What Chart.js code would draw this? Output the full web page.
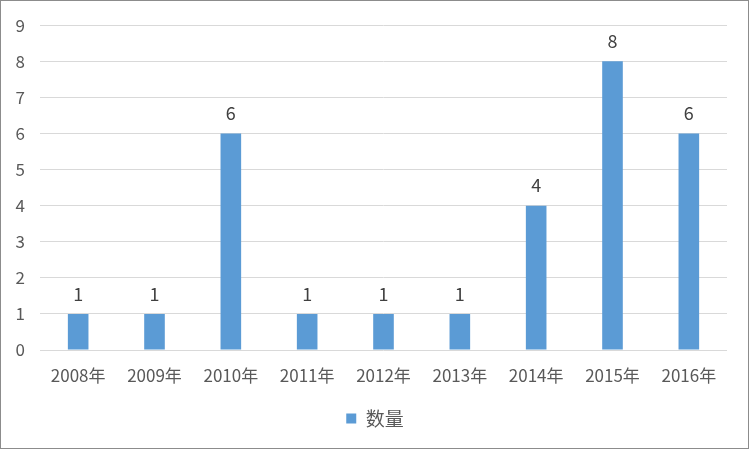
<!DOCTYPE html>
<html>
<head>
<meta charset="utf-8">
<script src="https://cdn.jsdelivr.net/npm/chart.js@4/dist/chart.umd.min.js"></script>
<style>
  html, body { margin: 0; padding: 0; background: #fff; }
  #wrap { width: 750px; height: 450px; position: relative; }
</style>
</head>
<body>
<div id="wrap"><canvas id="c" width="750" height="450"></canvas></div>
<script>
const years = ['2008年', '2009年', '2010年', '2011年', '2012年', '2013年', '2014年', '2015年', '2016年'];
const counts = [1, 1, 6, 1, 1, 1, 4, 8, 6];
const seriesName = '数量';
const yTicks = [0, 1, 2, 3, 4, 5, 6, 7, 8, 9];

const FONT = '"Noto Sans CJK SC", "Liberation Sans", sans-serif';

// Value labels above each bar plus the outer frame of the chart
const extras = {
  id: 'extras',
  afterDatasetsDraw(chart) {
    const ctx = chart.ctx;
    const meta = chart.getDatasetMeta(0);
    ctx.save();
    ctx.fillStyle = '#404040';
    ctx.font = '18px ' + FONT;
    ctx.textAlign = 'center';
    ctx.textBaseline = 'middle';
    meta.data.forEach((bar, i) => {
      ctx.fillText(String(counts[i]), bar.x, bar.y - 20);
    });
    ctx.restore();
  },
  afterDraw(chart) {
    const ctx = chart.ctx;
    ctx.save();
    ctx.strokeStyle = '#8c8c8c';
    ctx.lineWidth = 1;
    ctx.strokeRect(0.5, 0.5, chart.width - 2, chart.height - 2);
    ctx.restore();
  }
};

new Chart(document.getElementById('c'), {
  type: 'bar',
  data: {
    labels: years,
    datasets: [{
      label: seriesName,
      data: counts,
      backgroundColor: '#5B9BD5',
      borderWidth: 0,
      categoryPercentage: 1,
      barPercentage: 0.27
    }]
  },
  options: {
    responsive: false,
    animation: false,
    layout: { padding: { top: 19, right: 0, left: 0, bottom: 12 } },
    plugins: {
      legend: {
        position: 'bottom',
        labels: {
          boxWidth: 10,
          boxHeight: 10,
          color: '#595959',
          font: { size: 19, family: FONT },
          padding: 10
        }
      },
      tooltip: { enabled: false }
    },
    scales: {
      x: {
        grid: { display: false, drawTicks: false },
        border: { display: false },
        ticks: { color: '#595959', font: { size: 17, family: FONT }, padding: 15, maxRotation: 0 },
        afterFit(scale) { scale.height = 49; }
      },
      y: {
        min: 0,
        max: 9,
        afterBuildTicks(scale) { scale.ticks = yTicks.map(v => ({ value: v })); },
        grid: { color: '#D9D9D9', drawTicks: false },
        border: { display: false },
        ticks: { color: '#595959', font: { size: 17, family: FONT }, padding: 15 },
        afterFit(scale) { scale.width = 40; }
      },
      // empty right-hand gutter between the plot and the frame
      gutter: {
        type: 'linear',
        position: 'right',
        grid: { display: false, drawTicks: false },
        border: { display: false },
        ticks: { display: false },
        afterFit(scale) { scale.width = 23; }
      }
    }
  },
  plugins: [extras]
});
</script>
</body>
</html>
